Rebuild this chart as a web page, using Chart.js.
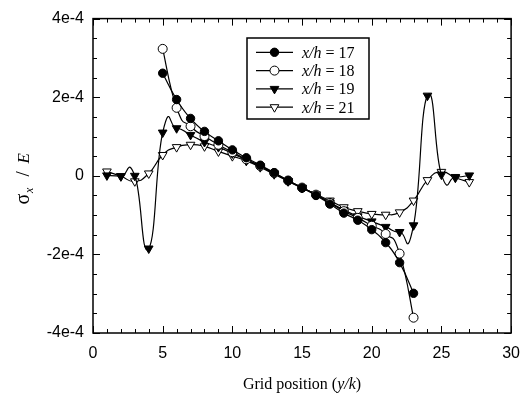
<!DOCTYPE html>
<html>
<head>
<meta charset="utf-8">
<script src="https://cdn.jsdelivr.net/npm/chart.js@4/dist/chart.umd.min.js"></script>
<style>
html,body{margin:0;padding:0;background:#fff;}
#wrap{width:531px;height:396px;position:relative;}
</style>
</head>
<body>
<div id="wrap"><canvas id="c" width="531" height="396"></canvas></div>
<script>
// ---- data ----
const gridPos17 = [5,6,7,8,9,10,11,12,13,14,15,16,17,18,19,20,21,22,23];
const sigma17 = [2.61e-4,1.94e-4,1.46e-4,1.13e-4,0.89e-4,0.66e-4,0.46e-4,0.27e-4,0.08e-4,-0.12e-4,-0.31e-4,-0.50e-4,-0.72e-4,-0.95e-4,-1.13e-4,-1.37e-4,-1.70e-4,-2.21e-4,-2.99e-4];

const gridPos18 = [5,6,7,8,9,10,11,12,13,14,15,16,17,18,19,20,21,22,23];
const sigma18 = [3.23e-4,1.73e-4,1.26e-4,1.01e-4,0.79e-4,0.60e-4,0.42e-4,0.25e-4,0.07e-4,-0.12e-4,-0.30e-4,-0.48e-4,-0.69e-4,-0.90e-4,-1.07e-4,-1.27e-4,-1.48e-4,-1.98e-4,-3.61e-4];

const gridPos19 = [1,2,3,4,5,6,7,8,9,10,11,12,13,14,15,16,17,18,19,20,21,22,23,24,25,26,27];
const sigma19 = [0.01e-4,-0.01e-4,0.00e-4,-1.85e-4,1.10e-4,1.21e-4,1.04e-4,0.86e-4,0.73e-4,0.57e-4,0.40e-4,0.24e-4,0.06e-4,-0.13e-4,-0.30e-4,-0.48e-4,-0.68e-4,-0.87e-4,-1.03e-4,-1.16e-4,-1.30e-4,-1.43e-4,-1.26e-4,2.04e-4,0.03e-4,-0.03e-4,0.01e-4];

const gridPos21 = [1,2,3,4,5,6,7,8,9,10,11,12,13,14,15,16,17,18,19,20,21,22,23,24,25,26,27];
const sigma21 = [0.11e-4,-0.01e-4,-0.14e-4,0.06e-4,0.53e-4,0.73e-4,0.79e-4,0.75e-4,0.62e-4,0.50e-4,0.38e-4,0.22e-4,0.04e-4,-0.14e-4,-0.31e-4,-0.47e-4,-0.63e-4,-0.80e-4,-0.90e-4,-0.97e-4,-0.99e-4,-0.93e-4,-0.63e-4,-0.11e-4,0.10e-4,-0.05e-4,-0.16e-4];

const seriesNames = ['17','18','19','21'];
const xTickValues = [0,5,10,15,20,25,30];
const xTickLabels = ['0','5','10','15','20','25','30'];
const yTickValues = [-4e-4,-2e-4,0,2e-4,4e-4];
const yTickLabels = ['-4e-4','-2e-4','0','2e-4','4e-4'];

const toPts = (xs, ys) => xs.map((x,i)=>({x:x, y:ys[i]}));

const styles = [
  {pointStyle:'circle', rotation:0, radius:4.2, bg:'#000'},
  {pointStyle:'circle', rotation:0, radius:4.5, bg:'#fff'},
  {pointStyle:'triangle', rotation:180, radius:5, bg:'#000'},
  {pointStyle:'triangle', rotation:180, radius:5, bg:'#fff'}
];
const allData = [toPts(gridPos17,sigma17), toPts(gridPos18,sigma18), toPts(gridPos19,sigma19), toPts(gridPos21,sigma21)];

const datasets = allData.map((d,i)=>({
  label: 'x/h = ' + seriesNames[i],
  data: d,
  borderColor:'#000',
  borderWidth:1.2,
  backgroundColor: styles[i].bg,
  pointStyle: styles[i].pointStyle,
  pointRotation: styles[i].rotation,
  pointRadius: styles[i].radius,
  pointBackgroundColor: styles[i].bg,
  pointBorderColor:'#000',
  pointBorderWidth:1,
  tension:0.4,
  fill:false
}));

// uniform cardinal spline (like the original plotting program) applied to Chart.js' own bezier control points
const SPLINE_K = 1.65;
const splinePlugin = {
  id:'uniformSpline',
  beforeDatasetsDraw(chart){
    chart.data.datasets.forEach((ds,i)=>{
      const meta = chart.getDatasetMeta(i);
      const line = meta.dataset;
      if (line && line.updateControlPoints) line.updateControlPoints(chart.chartArea, 'x');
      const pts = meta.data, n = pts.length;
      for (let j=0; j<n; j++){
        const p = pts[j], prev = pts[Math.max(j-1,0)], next = pts[Math.min(j+1,n-1)];
        const dx = (next.x - prev.x)*SPLINE_K/6, dy = (next.y - prev.y)*SPLINE_K/6;
        p.cp1x = p.x - dx; p.cp1y = p.y - dy;
        p.cp2x = p.x + dx; p.cp2y = p.y + dy;
      }
      if (line) { line._path = undefined; }
    });
  }
};

function drawRich(ctx, parts, x, y, align, size){
  let w = 0;
  parts.forEach(p=>{ ctx.font = (p.i?'italic ':'') + size + 'px "Liberation Serif", "Times New Roman", serif'; p.w = ctx.measureText(p.t).width; w += p.w; });
  let cx = align==='center' ? x - w/2 : x;
  parts.forEach(p=>{ ctx.font = (p.i?'italic ':'') + size + 'px "Liberation Serif", "Times New Roman", serif'; ctx.fillText(p.t, cx, y); cx += p.w; });
}

const decor = {
  id:'decor',
  afterDraw(chart){
    const ctx = chart.ctx, a = chart.chartArea, xs = chart.scales.x, ys = chart.scales.y;
    ctx.save();
    ctx.strokeStyle = '#000';
    ctx.lineWidth = 1;
    ctx.beginPath();
    for (let v=0; v<=30; v++){
      const px = Math.round(xs.getPixelForValue(v))+0.5;
      const len = v%5===0 ? 7 : 4;
      ctx.moveTo(px, a.bottom); ctx.lineTo(px, a.bottom-len);
      ctx.moveTo(px, a.top); ctx.lineTo(px, a.top+len);
    }
    for (let i=-8; i<=8; i++){
      const py = Math.round(ys.getPixelForValue(i*0.5e-4))+0.5;
      const len = i%4===0 ? 7 : 4;
      ctx.moveTo(a.left, py); ctx.lineTo(a.left+len, py);
      ctx.moveTo(a.right, py); ctx.lineTo(a.right-len, py);
    }
    ctx.stroke();
    ctx.lineWidth = 1.5;
    ctx.strokeRect(a.left, a.top, a.right-a.left, a.bottom-a.top);

    // legend
    const lx = 247, ly = 38, lw = 122, lh = 81;
    ctx.fillStyle = '#fff';
    ctx.fillRect(lx, ly, lw, lh);
    ctx.strokeRect(lx, ly, lw, lh);
    const rows = [52.3, 70.6, 88.9, 107.2];
    chart.data.datasets.forEach((ds,i)=>{
      const yy = rows[i];
      ctx.lineWidth = 1.2;
      ctx.strokeStyle = '#000';
      ctx.beginPath(); ctx.moveTo(256, yy); ctx.lineTo(293, yy); ctx.stroke();
      ctx.fillStyle = ds.pointBackgroundColor;
      ctx.lineWidth = 1;
      Chart.helpers.drawPoint(ctx, {pointStyle: ds.pointStyle, rotation: ds.pointRotation, radius: ds.pointRadius, borderWidth:1}, 274.5, yy);
      ctx.fillStyle = '#000';
      ctx.textBaseline = 'alphabetic';
      ctx.textAlign = 'left';
      drawRich(ctx, [{t:'x/h', i:true},{t:' = ' + seriesNames[i]}], 302, yy+5.5, 'left', 16);
    });

    // x title
    ctx.fillStyle = '#000';
    ctx.textAlign = 'left';
    drawRich(ctx, [{t:'Grid position ('},{t:'y/k', i:true},{t:')'}], (a.left+a.right)/2, 389, 'center', 16);

    // y title
    ctx.translate(29, 178.5);
    ctx.rotate(-Math.PI/2);
    const f = '"Liberation Serif", "Times New Roman", serif';
    ctx.font = '20px ' + f; ctx.fillText('σ', -26, 0);
    ctx.font = 'italic 12px ' + f; ctx.fillText('x', -14.5, 4);
    ctx.font = '19px ' + f; ctx.fillText('/', 2, 0);
    ctx.font = 'italic 17px ' + f; ctx.fillText('E', 15, 0);
    ctx.restore();
  }
};

new Chart(document.getElementById('c'), {
  type:'line',
  data:{datasets: datasets},
  options:{
    responsive:false,
    animation:false,
    devicePixelRatio:1,
    layout:{padding:{left:0, right:13, top:18, bottom:0}},
    plugins:{legend:{display:false}, tooltip:{enabled:false}},
    scales:{
      x:{
        type:'linear', min:0, max:30,
        afterBuildTicks: s => { s.ticks = xTickValues.map(v=>({value:v})); },
        afterFit: s => { s.height = 63; },
        grid:{display:false, drawTicks:false},
        border:{display:false},
        ticks:{color:'#000', padding:11, maxRotation:0, autoSkip:false,
          font:{family:'"Liberation Sans", Arial, sans-serif', size:16},
          callback:(v,i)=>xTickLabels[i]}
      },
      y:{
        type:'linear', min:-4e-4, max:4e-4,
        afterBuildTicks: s => { s.ticks = yTickValues.map(v=>({value:v})); },
        afterFit: s => { s.width = 93; },
        grid:{display:false, drawTicks:false},
        border:{display:false},
        ticks:{color:'#000', padding:9, autoSkip:false,
          font:{family:'"Liberation Sans", Arial, sans-serif', size:16},
          callback:(v,i)=>yTickLabels[i]}
      }
    }
  },
  plugins:[splinePlugin, decor]
});
</script>
</body>
</html>
